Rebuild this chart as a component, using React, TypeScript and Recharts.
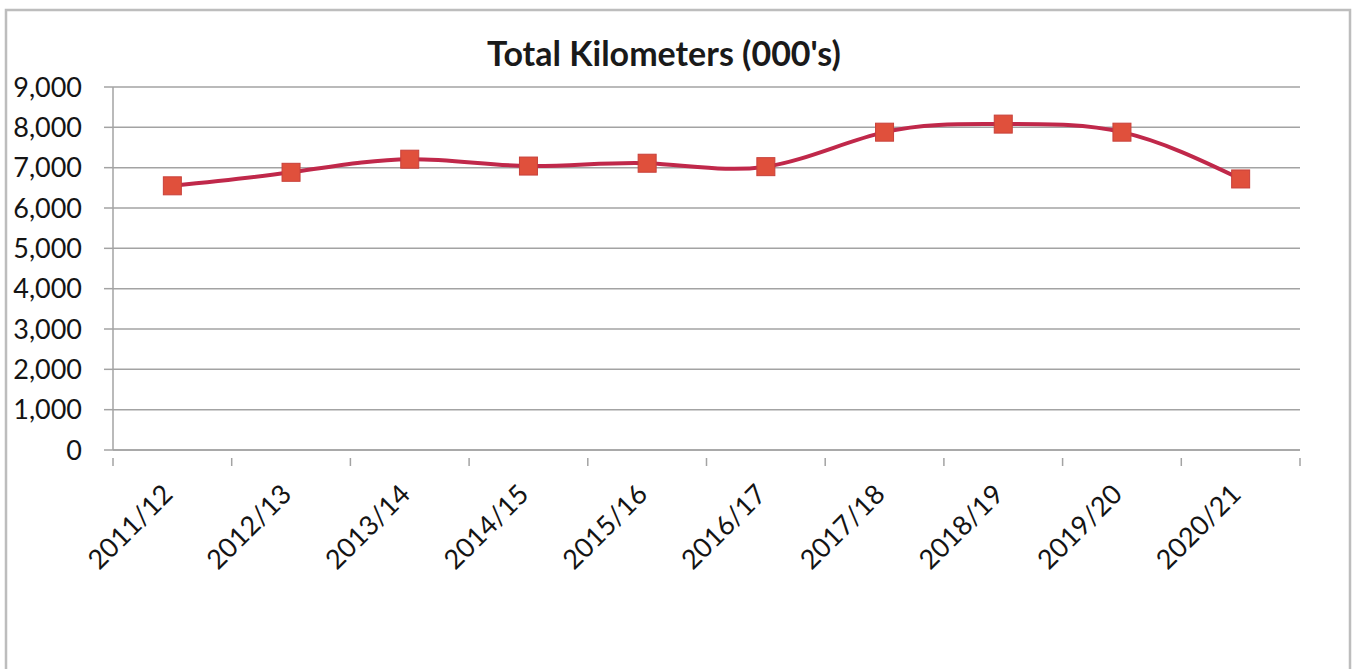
import { CartesianGrid, Line, LineChart, XAxis, YAxis } from 'recharts';

const periods = [
  '2011/12',
  '2012/13',
  '2013/14',
  '2014/15',
  '2015/16',
  '2016/17',
  '2017/18',
  '2018/19',
  '2019/20',
  '2020/21',
];
const totalKm = [6550, 6885, 7210, 7040, 7110, 7025, 7880, 8080, 7880, 6720];
const kmTicks = [0, 1000, 2000, 3000, 4000, 5000, 6000, 7000, 8000, 9000];

const data = periods.map((period, i) => ({ period, km: totalKm[i] }));

const W = 1353;
const H = 669;
const margin = { top: 87, right: 53, bottom: 0, left: 0 };
const yAxisW = 113;
const plotW = W - margin.left - margin.right - yAxisW;
const halfBand = plotW / periods.length / 2;

const font = 'Lato, "Open Sans", sans-serif';
const grey = '#a3a3a3';

function PeriodTick(props: any) {
  const { x, y, payload, index } = props;
  const last = index === periods.length - 1;
  const tx = x + 2;
  const ty = y + 38;
  return (
    <g>
      <line x1={x - halfBand} y1={y} x2={x - halfBand} y2={y + 8} stroke={grey} strokeWidth={1.5} />
      {last && (
        <line x1={x + halfBand} y1={y} x2={x + halfBand} y2={y + 8} stroke={grey} strokeWidth={1.5} />
      )}
      <text
        x={tx}
        y={ty}
        transform={`rotate(-45, ${tx}, ${ty})`}
        textAnchor="end"
        fontFamily={font}
        fontSize={27}
        fill="#141414"
      >
        {payload.value}
      </text>
    </g>
  );
}

function SquareDot(props: any) {
  const { cx, cy } = props;
  if (cx == null || cy == null) return null;
  return <rect x={cx - 9} y={cy - 9} width={18} height={18} fill="#e0503c" stroke="#c8403a" strokeWidth={1} />;
}

export default function App() {
  return (
    <div style={{ position: 'fixed', left: 0, top: 0, width: W, height: H, overflow: 'hidden', background: '#fff' }}>
      <div style={{ position: 'absolute', left: 0, top: 0 }}>
        <LineChart width={W} height={H} data={data} margin={margin}>
          <CartesianGrid horizontal vertical={false} stroke={grey} strokeWidth={1.5} />
          <XAxis
            dataKey="period"
            height={H - 450}
            padding={{ left: halfBand, right: halfBand }}
            axisLine={{ stroke: grey, strokeWidth: 1.5 }}
            tickLine={false}
            tick={<PeriodTick />}
            interval={0}
          />
          <YAxis
            width={yAxisW}
            domain={[0, 9000]}
            ticks={kmTicks}
            tickFormatter={(v: number) => v.toLocaleString('en-US')}
            axisLine={{ stroke: grey, strokeWidth: 1.5 }}
            tickLine={{ stroke: grey, strokeWidth: 1.5 }}
            tickSize={9}
            tickMargin={22}
            tick={{ fontFamily: font, fontSize: 27, fill: '#141414' }}
          />
          <Line
            dataKey="km"
            type="natural"
            stroke="#c0284a"
            strokeWidth={4}
            dot={<SquareDot />}
            activeDot={false}
            isAnimationActive={false}
          />
        </LineChart>
      </div>
      <svg style={{ position: 'absolute', left: 0, top: 0 }} width={W} height={90}>
        <text x={664} y={66} textAnchor="middle" fontFamily={font} fontWeight={700} fontSize={34} fill="#1a1a1a">
          Total Kilometers (000's)
        </text>
      </svg>
      <svg style={{ position: 'absolute', left: 0, top: 0, pointerEvents: 'none' }} width={W} height={H}>
        <polyline points="6,669 6,10 1350,10 1350,669" fill="none" stroke="#bdbdbd" strokeWidth={2.5} />
      </svg>
    </div>
  );
}
